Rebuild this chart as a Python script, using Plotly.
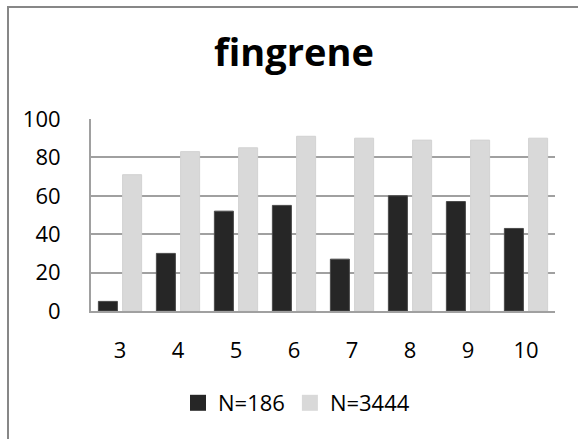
import plotly.graph_objects as go

# Data
categories = ["3", "4", "5", "6", "7", "8", "9", "10"]
series_names = ["N=186", "N=3444"]
values_n186 = [5, 30, 52, 55, 27, 60, 57, 43]
values_n3444 = [71, 83, 85, 91, 90, 89, 89, 90]
y_ticks = [0, 20, 40, 60, 80, 100]

dark = "#262626"
light = "#d9d9d9"
grid = "#a0a0a0"
frame = "#878787"
font_family = "Open Sans, Noto Sans, sans-serif"

W, H = 578, 439
L, R, T, B = 91, 555, 119, 311  # plot area in pixels


def px_x(px):
    return (px - L) / (R - L)


def px_y(py):
    return (B - py) / (B - T)


fig = go.Figure()

fig.add_trace(go.Bar(
    x=categories, y=values_n186, name=series_names[0],
    marker=dict(color=dark, line=dict(color="#4a4a4a", width=1)),
    showlegend=False,
))
fig.add_trace(go.Bar(
    x=categories, y=values_n3444, name=series_names[1],
    marker=dict(color=light, line=dict(color="#d2d2d2", width=1)),
    showlegend=False,
))

# legend entries with larger square swatches
for name, col in zip(series_names, [dark, light]):
    fig.add_trace(go.Scatter(
        x=[None], y=[None], mode="markers", name=name,
        marker=dict(symbol="square", size=16, color=col),
    ))

# outer frame around the chart: a bordered empty box anchored at its top-left corner
fig.add_annotation(
    xref="paper", yref="paper", x=px_x(7), y=px_y(6),
    xanchor="left", yanchor="top", text=" ", showarrow=False,
    width=640, height=520, borderpad=0,
    bordercolor=frame, borderwidth=2, bgcolor="rgba(0,0,0,0)",
)

fig.update_layout(
    width=W, height=H,
    margin=dict(l=L, r=W - R, t=T, b=H - B, pad=0),
    paper_bgcolor="white", plot_bgcolor="white",
    barmode="group", bargap=0.165, bargroupgap=0.215,
    font=dict(family=font_family, color="black", size=22),
    title=dict(
        text="<b>fingrene</b>", x=294 / W, xanchor="center",
        y=1 - 53 / H, yanchor="middle", yref="container",
        font=dict(family=font_family, size=38, color="black"),
    ),
    xaxis=dict(
        type="category", showgrid=False,
        showline=True, linecolor=grid, linewidth=2,
        ticks="outside", ticklen=19, tickcolor="rgba(0,0,0,0)",
        tickfont=dict(size=22), fixedrange=True,
    ),
    yaxis=dict(
        range=[0, 100], tickvals=y_ticks,
        showgrid=True, gridcolor=grid, gridwidth=2,
        showline=True, linecolor=grid, linewidth=2,
        zeroline=False,
        ticks="outside", ticklen=24, tickcolor="rgba(0,0,0,0)",
        tickfont=dict(size=22), fixedrange=True,
    ),
    legend=dict(
        orientation="h", x=px_x(178), xanchor="left",
        y=px_y(403), yanchor="middle",
        font=dict(size=22), itemwidth=30, tracegroupgap=0,
        bgcolor="rgba(0,0,0,0)",
    ),
)

fig.write_html("out.html")
